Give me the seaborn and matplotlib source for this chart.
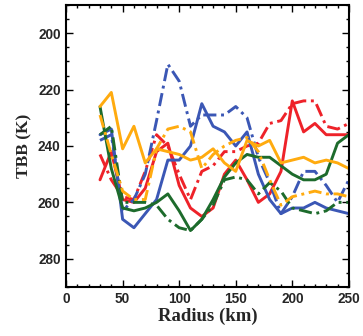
import numpy as np
import pandas as pd
import matplotlib
matplotlib.use("Agg")
import matplotlib.pyplot as plt
import seaborn as sns
from matplotlib.ticker import MultipleLocator

radius = [30, 40, 50, 60, 70, 80, 90, 100, 110, 120, 130, 140, 150, 160, 170, 180, 190, 200, 210, 220, 230, 240, 250]

red_solid = [252, 242, 259, 260, 255, 242, 239, 254, 262, 265, 262, 250, 245, 252, 260, 257, 249, 224, 235, 232, 236, 236, 236]
red_dashdot = [243, 252, 258, 259, 249, 236, 240, 250, 259, 249, 247, 242, 242, 240, 239, 232, 231, 225, 224, 224, 233, 234, 232]
blue_solid = [236, 234, 266, 269, 264, 259, 245, 245, 240, 225, 233, 235, 240, 235, 250, 259, 264, 262, 262, 260, 262, 263, 264]
blue_dashdot = [238, 236, 263, 259, 250, 231, 211, 217, 233, 229, 229, 229, 226, 230, 244, 253, 264, 258, 249, 249, 254, 260, 252]
green_solid = [226, 248, 262, 263, 262, 260, 257, 263, 270, 266, 259, 251, 246, 243, 244, 244, 247, 250, 252, 252, 250, 239, 236]
green_dashdot = [236, 233, 260, 260, 260, 261, 266, 269, 270, 266, 261, 252, 251, 252, 257, 253, 256, 262, 263, 264, 263, 260, 260]
orange_solid = [226, 221, 241, 233, 246, 241, 242, 243, 245, 244, 241, 246, 249, 238, 240, 238, 246, 245, 244, 246, 245, 246, 248]
orange_dashdot = [229, 243, 256, 259, 259, 241, 234, 233, 235, 248, 243, 240, 238, 237, 242, 252, 261, 258, 257, 256, 257, 257, 258]

series = {
    "red_solid": red_solid, "red_dashdot": red_dashdot,
    "blue_solid": blue_solid, "blue_dashdot": blue_dashdot,
    "green_solid": green_solid, "green_dashdot": green_dashdot,
    "orange_solid": orange_solid, "orange_dashdot": orange_dashdot,
}

rows = []
for name, vals in series.items():
    col, sty = name.split("_")
    for r, v in zip(radius, vals):
        rows.append({"Radius": r, "TBB": v, "series": name, "color": col, "style": sty})
df = pd.DataFrame(rows)

palette = {"red_solid": "#ee2229", "red_dashdot": "#ee2229",
           "blue_solid": "#3b57b5", "blue_dashdot": "#3b57b5",
           "green_solid": "#1d6b2c", "green_dashdot": "#1d6b2c",
           "orange_solid": "#ffab0f", "orange_dashdot": "#ffab0f"}
dashes = {"solid": "", "dashdot": (4.5, 1.6, 1, 1.6)}

sns.set_style("white")
fig = plt.figure(figsize=(3.63, 3.36), dpi=100)
ax = fig.add_axes([0.182, 0.146, 0.779, 0.839])

sns.lineplot(data=df, x="Radius", y="TBB", hue="series", style="style",
             palette=palette, dashes=dashes, linewidth=2.1, legend=False,
             ax=ax, sort=False, estimator=None)

ax.set_xlim(0, 250)
ax.set_ylim(290, 190)
ax.xaxis.set_major_locator(MultipleLocator(50))
ax.xaxis.set_minor_locator(MultipleLocator(10))
ax.yaxis.set_major_locator(MultipleLocator(20))
ax.yaxis.set_minor_locator(MultipleLocator(5))
ax.set_yticks([200, 220, 240, 260, 280])

ax.tick_params(which="both", direction="in", top=True, right=True, bottom=True, left=True,
               color="black", width=1.0)
ax.tick_params(which="major", length=5, pad=4)
ax.tick_params(which="minor", length=2.5)
for lab in ax.get_xticklabels() + ax.get_yticklabels():
    lab.set_fontfamily("Liberation Sans")
    lab.set_fontweight("bold")
    lab.set_fontsize(9.8)
for s in ax.spines.values():
    s.set_linewidth(1.5)
    s.set_color("black")

ax.set_xlabel("Radius (km)", fontfamily="Liberation Serif", fontweight="bold", fontsize=13.5, labelpad=1)
ax.set_ylabel("TBB (K)", fontfamily="Liberation Serif", fontweight="bold", fontsize=12.5, labelpad=4)

fig.savefig("out.png", dpi=100)
